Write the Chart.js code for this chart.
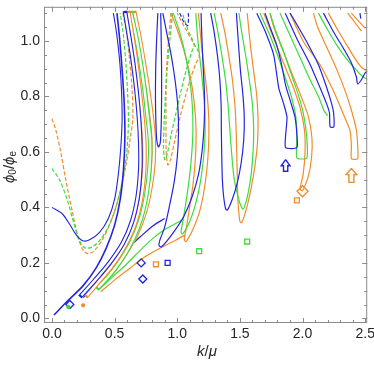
<!DOCTYPE html>
<html>
<head>
<meta charset="utf-8">
<script src="https://cdn.jsdelivr.net/npm/chart.js"></script>
<style>
  html, body { margin: 0; padding: 0; background: #fff; }
  canvas { display: block; }
</style>
</head>
<body>
<canvas id="contours" width="374" height="366"></canvas>
<script>
/* contour levels, k/mu vs phi0/phie */

// axis ticks
const xMajor = [0, 0.5, 1, 1.5, 2, 2.5];
const xTickLabels = ['0.0', '0.5', '1.0', '1.5', '2.0', '2.5'];
const xMinor = [0.1, 0.2, 0.3, 0.4, 0.6, 0.7, 0.8, 0.9, 1.1, 1.2, 1.3, 1.4, 1.6, 1.7, 1.8, 1.9, 2.1, 2.2, 2.3, 2.4];
const yMajor = [0, 0.2, 0.4, 0.6, 0.8, 1.0];
const yTickLabels = ['0.0', '0.2', '0.4', '0.6', '0.8', '1.0'];
const yMinor = [0.05, 0.1, 0.15, 0.25, 0.3, 0.35, 0.45, 0.5, 0.55, 0.65, 0.7, 0.75, 0.85, 0.9, 0.95, 1.05, 1.1];

// dip curves on the left
const dipBlue = [[0,0.40],[0.08,0.378],[0.14,0.34],[0.195,0.30],[0.245,0.28],[0.30,0.283],[0.38,0.31],[0.45,0.36],[0.5,0.43],[0.53,0.52],[0.55,0.62],[0.56,0.72],[0.555,0.82],[0.54,0.93],[0.515,1.03],[0.49,1.1]];
const dipGreen = [[0,0.54],[0.06,0.5],[0.12,0.43],[0.17,0.35],[0.22,0.28],[0.26,0.255],[0.31,0.255],[0.38,0.28],[0.45,0.33],[0.51,0.4],[0.56,0.49],[0.595,0.59],[0.61,0.7],[0.605,0.8],[0.59,0.92],[0.57,1.02],[0.545,1.1]];
const dipOrange = [[0,0.72],[0.03,0.68],[0.07,0.6],[0.11,0.5],[0.16,0.39],[0.21,0.29],[0.25,0.245],[0.29,0.233],[0.34,0.245],[0.41,0.29],[0.48,0.36],[0.54,0.45],[0.59,0.55],[0.625,0.65],[0.645,0.72],[0.64,0.82],[0.62,0.93],[0.595,1.03],[0.566,1.1]];

// fan from the origin
const fanBlue = [[0.016,0.012],[0.116,0.059],[0.249,0.118],[0.354,0.183],[0.434,0.254],[0.5,0.336],[0.545,0.43],[0.571,0.537],[0.582,0.654],[0.577,0.772],[0.561,0.89],[0.54,1.008],[0.519,1.1]];
const bandBlueA = [[0.235,0.083],[0.341,0.136],[0.46,0.2],[0.566,0.271],[0.64,0.35],[0.685,0.44],[0.705,0.54],[0.705,0.63],[0.695,0.72],[0.675,0.82],[0.648,0.92],[0.618,1.01],[0.585,1.1]];
const bandOrangeA1 = [[0.28,0.083],[0.37,0.13],[0.48,0.19],[0.58,0.26],[0.66,0.34],[0.71,0.43],[0.735,0.53],[0.738,0.62],[0.725,0.71],[0.7,0.82],[0.67,0.93],[0.64,1.02],[0.611,1.1]];
const bandGreenA = [[0.368,0.112],[0.45,0.15],[0.55,0.21],[0.64,0.28],[0.71,0.36],[0.755,0.45],[0.78,0.55],[0.783,0.64],[0.765,0.72],[0.74,0.82],[0.705,0.93],[0.67,1.02],[0.63,1.1]];
const bandOrangeA2 = [[0.394,0.124],[0.48,0.165],[0.58,0.23],[0.67,0.3],[0.74,0.38],[0.785,0.47],[0.81,0.56],[0.812,0.65],[0.795,0.73],[0.765,0.83],[0.73,0.93],[0.695,1.02],[0.659,1.1]];

// long low fan lines running into the k = 0.9 .. 1.1 group
const fanBlueC = [[0.25,0.075],[0.36,0.13],[0.48,0.19],[0.6,0.25],[0.72,0.3],[0.81,0.335],[0.9,0.36]];
const fanGreenC = [[0.37,0.102],[0.48,0.148],[0.6,0.198],[0.71,0.248],[0.81,0.29],[0.9,0.32],[0.98,0.34],[1.04,0.355]];
const fanOrangeC = [[0.39,0.096],[0.5,0.138],[0.62,0.18],[0.72,0.215],[0.81,0.24],[0.9,0.262],[0.98,0.28],[1.06,0.3]];

// U and V shapes around k = 0.9
const uBlue = [[0.845,1.1],[0.835,1.0],[0.828,0.9],[0.826,0.8],[0.83,0.7],[0.836,0.645],[0.85,0.618],[0.864,0.632],[0.872,0.7],[0.875,0.8],[0.875,0.9],[0.872,1.0],[0.868,1.1]];
const vGreenDash = [[0.963,1.1],[0.94,1.0],[0.92,0.9],[0.905,0.8],[0.895,0.7],[0.89,0.62],[0.9,0.572],[0.918,0.59],[0.95,0.66],[0.99,0.74],[1.03,0.82],[1.075,0.9],[1.115,0.96],[1.135,0.985],[1.125,1.0],[1.085,1.04],[1.04,1.1]];
const vOrangeDash = [[0.95,1.1],[0.93,1.0],[0.915,0.9],[0.91,0.8],[0.91,0.7],[0.912,0.6],[0.925,0.553],[0.945,0.57],[0.98,0.64],[1.02,0.72],[1.065,0.8],[1.11,0.87],[1.15,0.92],[1.175,0.94],[1.17,0.96],[1.12,1.0],[1.07,1.04],[1.0,1.1]];
const topBlueDash = [[1.02,1.1],[1.05,1.07],[1.082,1.055],[1.09,1.08],[1.088,1.1]];

// wedges, k = 0.85 .. 1.3
const wedgeBlueC = [[0.885,1.1],[0.92,1.02],[0.955,0.94],[0.985,0.85],[1.005,0.76],[1.01,0.67],[1.0,0.58],[0.975,0.49],[0.94,0.41],[0.9,0.33],[0.86,0.28],[0.855,0.262],[0.875,0.258],[0.97,0.31],[1.055,0.37],[1.12,0.44],[1.17,0.52],[1.2,0.61],[1.215,0.7],[1.218,0.79],[1.21,0.88],[1.2,0.97],[1.19,1.1]];
const wedgeGreenC = [[0.968,1.1],[1.02,1.03],[1.065,0.95],[1.1,0.86],[1.12,0.77],[1.125,0.68],[1.115,0.59],[1.095,0.5],[1.07,0.42],[1.045,0.35],[1.03,0.31],[1.045,0.305],[1.1,0.35],[1.145,0.41],[1.18,0.48],[1.205,0.56],[1.22,0.64],[1.222,0.72],[1.212,0.8],[1.19,0.9],[1.165,1.0],[1.148,1.1]];
const wedgeOrangeC = [[0.95,1.1],[1.0,1.04],[1.05,0.97],[1.1,0.88],[1.135,0.78],[1.15,0.68],[1.145,0.58],[1.125,0.48],[1.095,0.39],[1.07,0.32],[1.056,0.283],[1.07,0.277],[1.125,0.32],[1.175,0.38],[1.21,0.45],[1.235,0.53],[1.25,0.62],[1.252,0.71],[1.24,0.8],[1.215,0.9],[1.19,1.0],[1.169,1.1]];

// wedges, k = 1.25 .. 1.65
const wedgeBlueD = [[1.267,1.1],[1.295,1.03],[1.32,0.95],[1.34,0.86],[1.35,0.77],[1.352,0.68],[1.355,0.59],[1.36,0.5],[1.37,0.44],[1.386,0.395],[1.4,0.39],[1.44,0.43],[1.48,0.49],[1.51,0.56],[1.53,0.64],[1.535,0.72],[1.525,0.8],[1.505,0.89],[1.49,0.98],[1.472,1.1]];
const wedgeGreenD = [[1.294,1.1],[1.325,1.03],[1.355,0.95],[1.385,0.86],[1.405,0.77],[1.42,0.68],[1.435,0.59],[1.455,0.5],[1.49,0.43],[1.52,0.395],[1.535,0.4],[1.565,0.45],[1.59,0.52],[1.605,0.6],[1.61,0.68],[1.6,0.77],[1.575,0.86],[1.545,0.95],[1.515,1.03],[1.492,1.1]];
const wedgeOrangeD = [[1.347,1.1],[1.38,1.03],[1.41,0.95],[1.44,0.86],[1.46,0.77],[1.47,0.68],[1.475,0.59],[1.48,0.5],[1.485,0.42],[1.5,0.35],[1.515,0.345],[1.555,0.4],[1.59,0.47],[1.62,0.55],[1.64,0.63],[1.645,0.71],[1.635,0.8],[1.61,0.89],[1.585,0.98],[1.558,1.1]];

// loops, k = 1.6 .. 2.1
const loopBlueE = [[1.635,1.1],[1.704,1.032],[1.77,0.949],[1.81,0.831],[1.85,0.772],[1.876,0.725],[1.865,0.66],[1.865,0.615],[1.955,0.615],[1.955,0.66],[1.94,0.725],[1.905,0.78],[1.865,0.84],[1.83,0.92],[1.79,0.99],[1.74,1.05],[1.7,1.1]];
const loopGreenE = [[1.66,1.1],[1.73,1.03],[1.8,0.95],[1.86,0.87],[1.91,0.8],[1.945,0.73],[1.955,0.66],[1.955,0.578],[2.034,0.578],[2.034,0.65],[2.01,0.73],[1.97,0.8],[1.91,0.88],[1.85,0.96],[1.79,1.03],[1.74,1.1]];
const loopOrangeE = [[1.69,1.1],[1.76,1.02],[1.84,0.93],[1.92,0.84],[1.98,0.76],[2.015,0.68],[2.02,0.6],[2.005,0.52],[1.98,0.466],[2.0,0.46],[2.045,0.51],[2.072,0.58],[2.075,0.65],[2.045,0.73],[1.98,0.81],[1.9,0.9],[1.83,0.98],[1.77,1.05],[1.74,1.1]];

// loops, k = 1.8 .. 2.45
const loopBlueF = [[1.862,1.1],[1.955,1.008],[2.061,0.914],[2.14,0.831],[2.193,0.772],[2.215,0.74],[2.22,0.69],[2.25,0.69],[2.248,0.74],[2.233,0.772],[2.193,0.831],[2.127,0.914],[2.034,0.996],[1.929,1.079],[1.9,1.1]];
const lineGreenF = [[1.82,1.1],[1.9,1.02],[1.98,0.94],[2.06,0.86],[2.127,0.8],[2.17,0.75],[2.2,0.73]];
const loopOrangeF = [[1.9,1.1],[2.008,0.996],[2.14,0.914],[2.246,0.82],[2.325,0.737],[2.378,0.678],[2.39,0.62],[2.39,0.575],[2.44,0.575],[2.44,0.62],[2.43,0.678],[2.39,0.75],[2.34,0.82],[2.27,0.9],[2.19,0.98],[2.12,1.05],[2.087,1.1]];

// upper right corner
const edgeGreenG = [[2.127,1.1],[2.2,1.04],[2.28,0.98],[2.36,0.93],[2.42,0.9],[2.47,0.875],[2.52,0.86]];
const edgeBlueG = [[2.167,1.1],[2.25,1.03],[2.33,0.97],[2.39,0.92],[2.43,0.87],[2.44,0.845],[2.47,0.86],[2.5,0.885],[2.52,0.89]];
const edgeOrangeG = [[2.206,1.1],[2.28,1.04],[2.36,0.98],[2.42,0.935],[2.47,0.905],[2.52,0.89]];
const cornerOrange1 = [[2.36,1.1],[2.42,1.065],[2.47,1.035]];
const cornerOrange2 = [[2.39,1.1],[2.45,1.07],[2.5,1.045]];
const cornerBlue = [[2.458,1.1],[2.465,1.08]];

// small islands
const arrowBlue = [[1.865,0.572],[1.9,0.55],[1.882,0.55],[1.882,0.53],[1.848,0.53],[1.848,0.55],[1.83,0.55],[1.865,0.572]];
const arrowOrange = [[2.39,0.54],[2.432,0.518],[2.41,0.518],[2.41,0.49],[2.37,0.49],[2.37,0.518],[2.348,0.518],[2.39,0.54]];
const blueSquares = [[0.923,0.2]];
const greenSquares = [[1.175,0.242],[1.558,0.277]];
const orangeSquares = [[1.955,0.425],[0.83,0.195]];
const blueDiamonds = [[0.725,0.142],[0.712,0.2],[0.143,0.05]];
const orangeDiamonds = [[2.0,0.458]];
const greenDots = [[0.13,0.041]];
const orangeDots = [[0.249,0.047]];

const BLUE = '#2323e0';
const GREEN = '#3cdc3c';
const ORANGE = '#f28c28';

const toXY = pts => pts.map(p => ({ x: p[0], y: p[1] }));
const datasets = [];

function addLine(points, color, width, dash, tension) {
  datasets.push({
    data: toXY(points),
    showLine: true,
    borderColor: color,
    borderWidth: width,
    borderDash: dash || [],
    pointRadius: 0,
    tension: tension === undefined ? 0.3 : tension,
    fill: false
  });
}

// thin closed contour: coloured stroke with a white core
function addBand(points, color) {
  datasets.push({
    data: toXY(points), showLine: true, borderColor: color, borderWidth: 4.6,
    borderCapStyle: 'square', pointRadius: 0, tension: 0.3, fill: false
  });
  datasets.push({
    data: toXY(points), showLine: true, borderColor: '#ffffff', borderWidth: 2.4,
    borderCapStyle: 'butt', pointRadius: 0, tension: 0.3, fill: false
  });
}

function addMarks(points, color, style, radius, filled) {
  datasets.push({
    data: toXY(points),
    showLine: false,
    pointStyle: style,
    pointRadius: radius,
    pointBorderColor: color,
    pointBorderWidth: 1.3,
    pointBackgroundColor: filled ? color : 'rgba(0,0,0,0)'
  });
}

addLine(dipOrange, ORANGE, 1.2, [4, 2]);
addLine(dipGreen, GREEN, 1.2, [4, 2]);
addLine(dipBlue, BLUE, 1.1);
addLine(fanOrangeC, ORANGE, 1.2);
addLine(fanGreenC, GREEN, 1.2);
addLine(fanBlueC, BLUE, 1.2);
addBand(bandOrangeA2, ORANGE);
addBand(bandGreenA, GREEN);
addBand(bandOrangeA1, ORANGE);
addBand(bandBlueA, BLUE);
addLine(fanBlue, BLUE, 1.6);

addLine(uBlue, BLUE, 1.2);
addLine(vOrangeDash, ORANGE, 1.2, [4, 2]);
addLine(vGreenDash, GREEN, 1.2, [4, 2]);
addLine(topBlueDash, BLUE, 1.2, [4, 2]);

addLine(wedgeOrangeC, ORANGE, 1.2);
addLine(wedgeGreenC, GREEN, 1.2);
addLine(wedgeBlueC, BLUE, 1.2);
addLine(wedgeOrangeD, ORANGE, 1.2);
addLine(wedgeGreenD, GREEN, 1.2);
addLine(wedgeBlueD, BLUE, 1.2);

addLine(loopOrangeE, ORANGE, 1.2, null, 0.2);
addLine(loopGreenE, GREEN, 1.2, null, 0.2);
addLine(loopBlueE, BLUE, 1.2, null, 0.2);
addLine(loopOrangeF, ORANGE, 1.2, null, 0.2);
addLine(lineGreenF, GREEN, 1.2);
addLine(loopBlueF, BLUE, 1.2, null, 0.2);

addLine(edgeOrangeG, ORANGE, 1.2);
addLine(edgeGreenG, GREEN, 1.2);
addLine(edgeBlueG, BLUE, 1.2);
addLine(cornerOrange1, ORANGE, 1.2);
addLine(cornerOrange2, ORANGE, 1.2);
addLine(cornerBlue, BLUE, 1.2);

addLine(arrowBlue, BLUE, 1.4, null, 0);
addLine(arrowOrange, ORANGE, 1.4, null, 0);
addMarks(blueSquares, BLUE, 'rect', 3.5);
addMarks(greenSquares, GREEN, 'rect', 3.5);
addMarks(orangeSquares, ORANGE, 'rect', 3.5);
addMarks(blueDiamonds, BLUE, 'rectRot', 4);
addMarks(orangeDiamonds, ORANGE, 'rectRot', 5.5);
addMarks(greenDots, GREEN, 'circle', 1.5, true);
addMarks(orangeDots, ORANGE, 'circle', 1.5, true);

// later entries on top
datasets.forEach((d, i) => { d.order = datasets.length - i; });

const frameAndLabels = {
  id: 'frameAndLabels',
  afterDraw(chart) {
    const { ctx, chartArea: { left, right, top, bottom }, scales: { x, y } } = chart;
    ctx.save();
    ctx.strokeStyle = '#8a8a8a';
    ctx.lineWidth = 1;
    ctx.strokeRect(left + 0.5, top + 0.5, right - left - 1, bottom - top - 1);

    ctx.beginPath();
    xMajor.forEach(v => {
      const px = Math.round(x.getPixelForValue(v)) + 0.5;
      ctx.moveTo(px, bottom); ctx.lineTo(px, bottom - 5);
      ctx.moveTo(px, top); ctx.lineTo(px, top + 5);
    });
    xMinor.forEach(v => {
      const px = Math.round(x.getPixelForValue(v)) + 0.5;
      ctx.moveTo(px, bottom); ctx.lineTo(px, bottom - 3);
      ctx.moveTo(px, top); ctx.lineTo(px, top + 3);
    });
    yMajor.forEach(v => {
      const py = Math.round(y.getPixelForValue(v)) + 0.5;
      ctx.moveTo(left, py); ctx.lineTo(left + 5, py);
      ctx.moveTo(right, py); ctx.lineTo(right - 5, py);
    });
    yMinor.forEach(v => {
      const py = Math.round(y.getPixelForValue(v)) + 0.5;
      ctx.moveTo(left, py); ctx.lineTo(left + 3, py);
      ctx.moveTo(right, py); ctx.lineTo(right - 3, py);
    });
    ctx.stroke();

    ctx.fillStyle = '#262626';
    ctx.font = "14px 'Liberation Sans', Arial, sans-serif";
    ctx.textBaseline = 'middle';
    ctx.textAlign = 'center';
    xMajor.forEach((v, i) => ctx.fillText(xTickLabels[i], x.getPixelForValue(v), bottom + 11));
    ctx.textAlign = 'right';
    yMajor.forEach((v, i) => ctx.fillText(yTickLabels[i], left - 4, y.getPixelForValue(v)));

    // x title: k/mu
    const big = "italic 15px 'Liberation Sans', 'DejaVu Sans', sans-serif";
    const upright = "15px 'Liberation Sans', 'DejaVu Sans', sans-serif";
    const small = "10px 'Liberation Sans', 'DejaVu Sans', sans-serif";
    const xParts = [['k', big, 0], ['/', upright, 0], ['\u03bc', big, 0]];
    drawParts(ctx, xParts, 207, 352);

    // y title: phi0/phie
    ctx.translate(10, 167);
    ctx.rotate(-Math.PI / 2);
    const yParts = [['\u03d5', big, 0], ['0', small, 3], ['/', upright, 0], ['\u03d5', big, 0], ['e', small, 3]];
    drawParts(ctx, yParts, 0, 0);
    ctx.restore();
  }
};

function drawParts(ctx, parts, cx, cy) {
  let total = 0;
  parts.forEach(p => { ctx.font = p[1]; total += ctx.measureText(p[0]).width; });
  let pos = cx - total / 2;
  ctx.textAlign = 'left';
  ctx.textBaseline = 'middle';
  parts.forEach(p => {
    ctx.font = p[1];
    ctx.fillText(p[0], pos, cy + p[2]);
    pos += ctx.measureText(p[0]).width;
  });
}

new Chart(document.getElementById('contours'), {
  type: 'scatter',
  data: { datasets: datasets },
  options: {
    responsive: false,
    animation: false,
    devicePixelRatio: 1,
    layout: { padding: { left: 44, right: 5, top: 1, bottom: 43 } },
    plugins: { legend: { display: false }, tooltip: { enabled: false } },
    scales: {
      x: { type: 'linear', display: false, min: -0.0635, max: 2.516 },
      y: { type: 'linear', display: false, min: -0.0166, max: 1.1228 }
    }
  },
  plugins: [frameAndLabels]
});
</script>
</body>
</html>
